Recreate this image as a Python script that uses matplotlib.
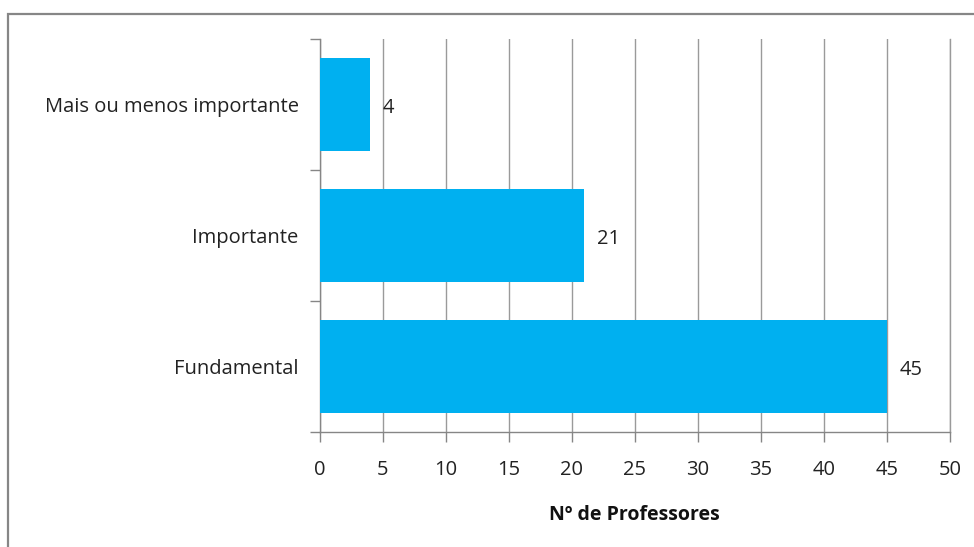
import matplotlib
matplotlib.use("Agg")
import matplotlib.pyplot as plt
from matplotlib.patches import Rectangle

categories = ["Fundamental", "Importante", "Mais ou menos importante"]
values = [45, 21, 4]
xticks = [0, 5, 10, 15, 20, 25, 30, 35, 40, 45, 50]
xlabel = "Nº de Professores"

W, H = 974, 547
plt.rcParams['font.family'] = ['Open Sans', 'DejaVu Sans']
fig = plt.figure(figsize=(W/100, H/100), dpi=100)

# outer chart border
fig.patches.append(Rectangle((8/W, -0.05), 1.1, (547-14)/H + 0.05, transform=fig.transFigure,
                             fill=False, edgecolor='#868686', linewidth=1.6, zorder=0))

ax = fig.add_axes([319.5/W, (H-432)/H, (950-319.5)/W, (432-38.7)/H])
ypos = list(range(len(categories)))
ax.barh(ypos, values, height=0.71, color='#00B0F0', zorder=3)
ax.set_xlim(0, 50)
ax.set_ylim(-0.5, 2.5)
ax.set_xticks(xticks)
ax.set_xticklabels([str(t) for t in xticks], fontsize=14.5, color='#222222')
ax.set_yticks([-0.5, 0.5, 1.5, 2.5])
ax.set_yticklabels([])
ax.set_yticks(ypos, minor=True)
ax.set_yticklabels(categories, minor=True, fontsize=14.5, color='#222222')
ax.tick_params(axis='y', which='minor', length=0, pad=15)
ax.tick_params(axis='y', which='major', length=7, color='#868686', width=1)
ax.tick_params(axis='x', length=7, color='#868686', width=1, pad=13)

ax.grid(axis='x', color='#9a9a9a', linewidth=1, zorder=1)
ax.axvline(xticks[-1], color='#9a9a9a', linewidth=1, zorder=1, clip_on=False)
for s in ['top', 'right']:
    ax.spines[s].set_visible(False)
for s in ['left', 'bottom']:
    ax.spines[s].set_color('#868686')
    ax.spines[s].set_linewidth(1)

for y, v in zip(ypos, values):
    ax.annotate(str(v), (v, y), xytext=(13, -4), textcoords='offset pixels',
                va='center', ha='left', fontsize=14.5, color='#222222')

ax.set_xlabel(xlabel, fontsize=14, fontweight='bold', labelpad=18, color='#111111')

fig.savefig("out.png", dpi=100)
